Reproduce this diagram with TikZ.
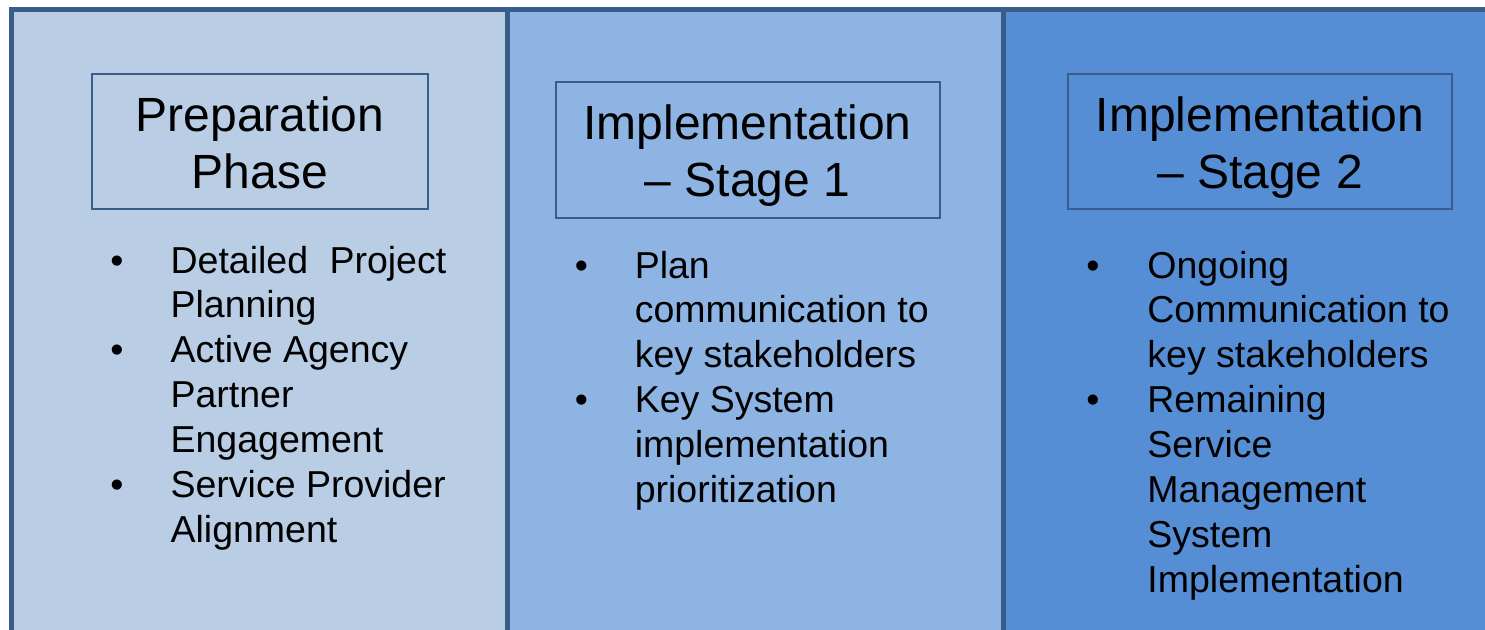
\documentclass[tikz,border=0pt]{standalone}
\usepackage{fontspec}
\setmainfont{Liberation Sans}
\definecolor{frame}{HTML}{385D8A}
\definecolor{fillA}{HTML}{B9CDE5}
\definecolor{fillB}{HTML}{8EB4E3}
\definecolor{fillC}{HTML}{558ED5}
\begin{document}
\begin{tikzpicture}[x=1pt,y=-1pt,
  titlebox/.style={draw=frame, line width=2pt, inner sep=0pt},
  titletext/.style={anchor=base, inner sep=0pt, font=\fontsize{48}{57}\selectfont},
  itemtext/.style={anchor=base west, inner sep=0pt, font=\fontsize{37.5}{44.9}\selectfont},
  bulletmark/.style={anchor=base, inner sep=0pt, font=\fontsize{37.5}{44.9}\selectfont},
  panelline/.style={draw=frame, line width=5pt}]
\useasboundingbox (0,0) rectangle (1485,629);
% panels
\fill[fillA] (11.8,9.7) rectangle (507.5,640);
\fill[fillB] (507.5,9.7) rectangle (1003.8,640);
\fill[fillC] (1003.8,9.7) rectangle (1500,640);
\draw[panelline] (11.8,640) -- (11.8,9.7) -- (1500,9.7);
\draw[panelline] (507.5,9.7) -- (507.5,640);
\draw[panelline] (1003.8,9.7) -- (1003.8,640);
% title boxes
\node[titlebox, minimum width=336pt, minimum height=135pt] (box1) at (260,141.5) {};
\node[titlebox, minimum width=384.5pt, minimum height=135.5pt] (box2) at (747.75,149.75) {};
\node[titlebox, minimum width=384.3pt, minimum height=135pt] (box3) at (1259.85,141.5) {};
\node[titletext] (title1) at (260,131) {\begin{tabular}[t]{@{}c@{}}Preparation\\Phase\end{tabular}};
\node[titletext] (title2) at (747.5,139) {\begin{tabular}[t]{@{}c@{}}Implementation\\– Stage 1\end{tabular}};
\node[titletext] (title3) at (1260,131) {\begin{tabular}[t]{@{}c@{}}Implementation\\– Stage 2\end{tabular}};
% panel 1 items
\node[bulletmark] (b11) at (117,273) {•};
\node[itemtext] (i11) at (170.4,273) {\begin{tabular}[t]{@{}l@{}}Detailed\hspace{11pt} Project\\Planning\end{tabular}};
\node[bulletmark] (b12) at (117,362.8) {•};
\node[itemtext] (i12) at (170.4,362.8) {\begin{tabular}[t]{@{}l@{}}Active Agency\\Partner\\Engagement\end{tabular}};
\node[bulletmark] (b13) at (117,497.5) {•};
\node[itemtext] (i13) at (170.4,497.5) {\begin{tabular}[t]{@{}l@{}}Service Provider\\Alignment\end{tabular}};
% panel 2 items
\node[bulletmark] (b21) at (581.5,278) {•};
\node[itemtext] (i21) at (634.6,278) {\begin{tabular}[t]{@{}l@{}}Plan\\communication to\\key stakeholders\end{tabular}};
\node[bulletmark] (b22) at (581.5,412.7) {•};
\node[itemtext] (i22) at (634.6,412.7) {\begin{tabular}[t]{@{}l@{}}Key System\\implementation\\prioritization\end{tabular}};
% panel 3 items
\node[bulletmark] (b31) at (1093,278) {•};
\node[itemtext] (i31) at (1147.2,278) {\begin{tabular}[t]{@{}l@{}}Ongoing\\Communication to\\key stakeholders\end{tabular}};
\node[bulletmark] (b32) at (1093,412.7) {•};
\node[itemtext] (i32) at (1147.2,412.7) {\begin{tabular}[t]{@{}l@{}}Remaining\\Service\\Management\\System\\Implementation\end{tabular}};
\end{tikzpicture}
\end{document}
